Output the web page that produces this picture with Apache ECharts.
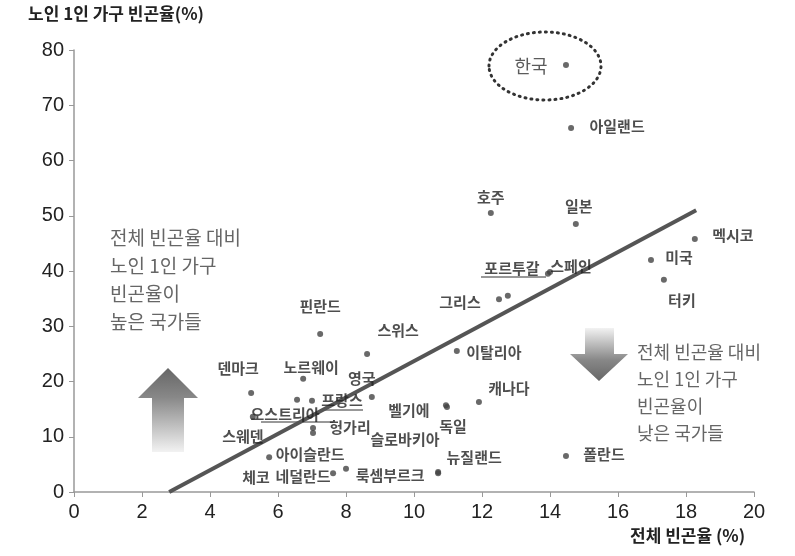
<!DOCTYPE html>
<html><head><meta charset="utf-8">
<script src="https://cdn.jsdelivr.net/npm/echarts@6/dist/echarts.min.js"></script>
<style>html,body{margin:0;padding:0;background:#fff}#c{width:795px;height:556px}</style>
</head><body><div id="c"></div>
<script>
// ---- data ----
const countries = ['한국','아일랜드','호주','일본','멕시코','미국','터키','포르투갈','스페인','그리스','','핀란드','스위스','이탈리아','캐나다','덴마크','노르웨이','영국','프랑스','오스트리아','스웨덴','헝가리','슬로바키아','벨기에','독일','뉴질랜드','아이슬란드','체코','네덜란드','룩셈부르크','폴란드'];
const povertyAll     = [14.47,14.62,12.26,14.76,18.26,16.97,17.35,13.94,14.0,12.5,12.76,7.24,8.62,11.26,11.91,5.21,6.74,8.76,7.0,6.56,5.26,7.03,7.03,10.94,10.97,10.71,5.74,7.62,8.0,10.71,14.47];
const povertyElderly = [77.3,65.9,50.5,48.5,45.8,42.0,38.4,39.5,39.8,34.9,35.5,28.6,25.0,25.5,16.3,17.9,20.5,17.2,16.5,16.7,13.6,11.6,10.7,15.7,15.4,3.6,6.3,3.4,4.2,3.4,6.5];
const trendX = [2.8, 18.3];
const trendY = [0, 51];
const xTickValues = [0,2,4,6,8,10,12,14,16,18,20];
const yTickValues = [0,10,20,30,40,50,60,70,80];
const yTitle = '노인 1인 가구 빈곤율(%)';
const xTitle = '전체 빈곤율 (%)';
const noteHigh = ['전체 빈곤율 대비','노인 1인 가구','빈곤율이','높은 국가들'];
const noteLow  = ['전체 빈곤율 대비','노인 1인 가구','빈곤율이','낮은 국가들'];

// ---- label placement (layout, separate from data) ----
const labelOffset = {
 '한국':[-35,1],'아일랜드':[46,-2],'호주':[0,-16],'일본':[3,-18],'멕시코':[38,-4],'미국':[28,-3],'터키':[18,20],
 '포르투갈':[-36,-5],'스페인':[21,-6],'그리스':[-39,3],'핀란드':[0,-28],'스위스':[31,-24],'이탈리아':[37,1],
 '캐나다':[30,-14],'덴마크':[-13,-25],'노르웨이':[8,-11],'영국':[-10,-19],'프랑스':[30,-1],'오스트리아':[-12,15],
 '스웨덴':[-10,19],'헝가리':[37,-1],'슬로바키아':[92,6],'벨기에':[-37,5],'독일':[6,19],'뉴질랜드':[36,-15],
 '아이슬란드':[41,-3],'체코':[-77,4],'네덜란드':[-43,8],'룩셈부르크':[-48,2],'폴란드':[38,-2]
};

const FONT = '"Noto Sans CJK KR","Noto Sans",sans-serif';
const NUMFONT = '"Liberation Sans Narrow","Liberation Sans",sans-serif';

const points = countries.map((n,i)=>{
  const off = labelOffset[n] || [0,0];
  const isKorea = n === '한국';
  return {
    name:n, value:[povertyAll[i], povertyElderly[i]],
    label:{show: n!=='', formatter:n, position:'inside', offset:off, align:'center', verticalAlign:'middle',
      fontFamily:FONT, fontSize: isKorea?18:15, fontWeight: isKorea?'normal':'bold', color: isKorea?'#333':'#222'}
  };
});

const chart = echarts.init(document.getElementById('c'));
const leftNote = noteHigh.map((t,i)=>({type:'text', left:110, top:228+i*28, style:{text:t, font:'19px '+FONT, fill:'#666'}}));
const rightNote = noteLow.map((t,i)=>({type:'text', left:637, top:343+i*27, style:{text:t, font:'18px '+FONT, fill:'#666'}}));

chart.setOption({
  animation:false,
  grid:{left:74, right:41, top:50, bottom:64},
  xAxis:{type:'value', min:0, max:20, interval:2,
    axisLine:{lineStyle:{color:'#999', width:1.5}}, axisTick:{show:true, length:5, lineStyle:{color:'#999'}},
    splitLine:{show:false},
    axisLabel:{fontFamily:NUMFONT, fontSize:20, color:'#222', margin:10,
      formatter:v=> xTickValues.includes(v)? String(v):''}},
  yAxis:{type:'value', min:0, max:80, interval:10,
    axisLine:{show:true, lineStyle:{color:'#999', width:1.5}}, axisTick:{show:true, length:5, lineStyle:{color:'#999'}},
    splitLine:{show:false},
    axisLabel:{fontFamily:NUMFONT, fontSize:20, color:'#222', margin:10,
      formatter:v=> yTickValues.includes(v)? String(v):''}},
  series:[
    {type:'line', data:trendX.map((x,i)=>[x,trendY[i]]), symbol:'none', silent:true,
      lineStyle:{color:'#555', width:4}, z:1},
    {type:'scatter', data:points, symbolSize:6, itemStyle:{color:'#444'}, z:3}
  ],
  graphic:[
    {type:'text', left:28, top:5, style:{text:yTitle, font:'bold 17px '+FONT, fill:'#222'}},
    {type:'text', left:630, top:527, style:{text:xTitle, font:'bold 17px '+FONT, fill:'#222'}},
    // Korea dotted ellipse
    {type:'ellipse', shape:{cx:545, cy:66, rx:56, ry:34}, style:{fill:'none', stroke:'#333', lineWidth:3, lineDash:[1,5], lineCap:'round'}},
    // leader underlines
    {type:'line', shape:{x1:481,y1:277,x2:546,y2:277}, style:{stroke:'#333', lineWidth:1}},
    {type:'line', shape:{x1:320,y1:410,x2:363,y2:410}, style:{stroke:'#333', lineWidth:1}},
    {type:'line', shape:{x1:261,y1:422,x2:333,y2:422}, style:{stroke:'#333', lineWidth:1}},
    // up arrow
    {type:'polygon', shape:{points:[[168,368],[198,398],[184,398],[184,452],[152,452],[152,398],[138,398]]},
      style:{fill:new echarts.graphic.LinearGradient(0,0,0,1,[{offset:0,color:'#666'},{offset:0.35,color:'#888'},{offset:1,color:'#f2f2f2'}])}},
    // down arrow
    {type:'polygon', shape:{points:[[585,328],[614,328],[614,354],[628,354],[599,381],[570,354],[585,354]]},
      style:{fill:new echarts.graphic.LinearGradient(0,0,0,1,[{offset:0,color:'#f2f2f2'},{offset:0.6,color:'#888'},{offset:1,color:'#666'}])}}
  ].concat(leftNote, rightNote)
});
</script></body></html>
